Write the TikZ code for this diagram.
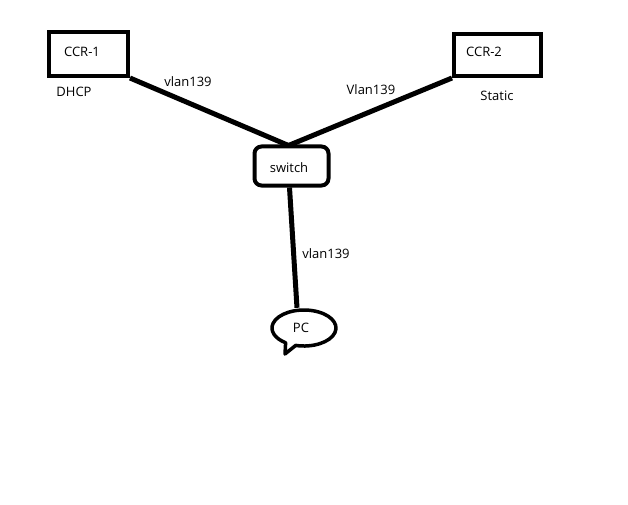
\documentclass[tikz,border=0pt]{standalone}
\usepackage{fontspec}
\setmainfont{Open Sans}
\usetikzlibrary{shapes.geometric}
\begin{document}
\begin{tikzpicture}[x=1pt,y=-1pt,
  every node/.style={font=\fontsize{13}{15}\selectfont, text=black},
  box/.style={draw=black, line width=4pt, inner sep=0pt},
  link/.style={draw=black, line width=5pt},
  lbl/.style={inner sep=0pt}]
\useasboundingbox[fill=white] (0,0) rectangle (628,505);
% routers
\node[box, minimum width=79pt, minimum height=44pt] (ccr1) at (88.5,54) {};
\node[lbl] at (82,52) {CCR-1};
\node[lbl] (dhcp) at (74,92) {DHCP};
\node[box, minimum width=87pt, minimum height=42pt] (ccr2) at (497.5,55) {};
\node[lbl] at (484,52) {CCR-2};
\node[lbl] (static) at (497,96) {Static};
% switch
\node[draw=black, line width=4pt, rounded corners=7pt, minimum width=74pt, minimum height=39pt] (sw) at (291.5,166) {};
\node[lbl] at (289,168) {switch};
% PC
\node[ellipse, minimum width=64pt, minimum height=36pt, draw=none] (pc) at (304,328) {};
\draw[line width=3.5pt, line join=round] (295.7,345.4) arc[start angle=105, end angle=-235, x radius=32, y radius=18] -- (285,354) -- cycle;
\node[lbl] at (301,328) {PC};
% links
\draw[link] (ccr1.south east) -- ([xshift=-3pt,yshift=-1pt]sw.north);
\draw[link] (ccr2.south west) -- ([xshift=-3pt,yshift=-1pt]sw.north);
\draw[link] ([xshift=-2pt]sw.south) -- ([xshift=-7pt,yshift=2pt]pc.north);
% link labels
\node[lbl] at (188,82) {vlan139};
\node[lbl] at (371,90) {Vlan139};
\node[lbl] at (326,254) {vlan139};
\end{tikzpicture}
\end{document}
